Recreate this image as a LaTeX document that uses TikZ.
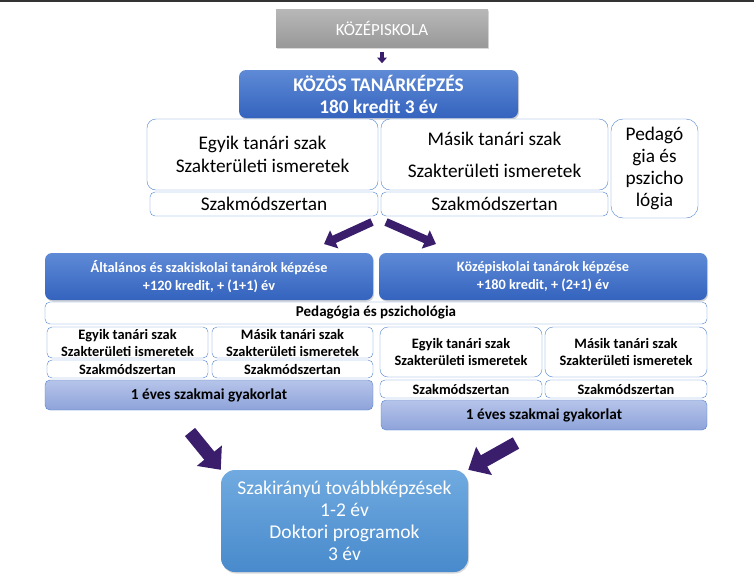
\documentclass[tikz,border=0pt]{standalone}
\usepackage{fontspec}
\setmainfont{Carlito}
\usepackage{tikz}
\usetikzlibrary{shapes,arrows.meta,shadows,positioning}

\definecolor{keret}{RGB}{79,129,208}
\definecolor{lila}{RGB}{58,30,108}
\definecolor{kektop}{RGB}{94,138,214}
\definecolor{kekbot}{RGB}{52,99,190}
\definecolor{vilagtop}{RGB}{182,196,233}
\definecolor{vilagbot}{RGB}{142,163,218}
\definecolor{egtop}{RGB}{112,170,224}
\definecolor{egbot}{RGB}{72,138,204}

\begin{document}
\begin{tikzpicture}[x=1pt, y=-1pt,
  box/.style={draw=keret, fill=white, rounded corners=#1, inner sep=0pt, align=center, font=\fontsize{19.3}{23}\selectfont},
  box/.default=9pt,
  kis/.style={box=5pt, font=\bfseries\fontsize{14.4}{17}\selectfont},
  kek/.style={draw=none, rounded corners=7pt, top color=kektop, bottom color=kekbot, text=white, inner sep=0pt, align=center,
    drop shadow={shadow xshift=1pt, shadow yshift=-1.5pt, opacity=0.35}},
  gyak/.style={draw=keret, rounded corners=5pt, top color=vilagtop, bottom color=vilagbot, inner sep=0pt,
    font=\bfseries\fontsize{15.3}{17}\selectfont},
  nyil/.style={draw=lila, line width=#1, -{Triangle[width=2.4*#1, length=1.4*#1]}},
  nyil/.default=8pt]
\useasboundingbox (0,0) rectangle (754,576);
\fill[black!80] (0,0) rectangle (754,2);

% felso resz
\node [draw=none, top color=black!28, bottom color=black!40, text=white, inner sep=0pt,
  minimum width=212pt, minimum height=38pt, font=\fontsize{17}{20}\selectfont,
  drop shadow={shadow xshift=1pt, shadow yshift=-1.5pt, opacity=0.3}] (kozep) at (382,28) {KÖZÉPISKOLA};
\node [kek, minimum width=279pt, minimum height=48pt, font=\bfseries\fontsize{19.3}{22}\selectfont] (kozos) at (378.5,94) {KÖZÖS TANÁRKÉPZÉS\\180 kredit 3 év};
\node [box, minimum width=231pt, minimum height=71pt] (egyik) at (262.5,154.5) {Egyik tanári szak\\Szakterületi ismeretek};
\node [box, minimum width=227pt, minimum height=71pt] (masik) at (494.5,154.5) {Másik tanári szak\\[9pt]Szakterületi ismeretek};
\node [box=5pt, minimum width=228pt, minimum height=24pt] (modA) at (264,204) {Szakmódszertan};
\node [box=5pt, minimum width=227pt, minimum height=24pt] (modB) at (494.5,204) {Szakmódszertan};
\node [box=12pt, minimum width=87pt, minimum height=99pt, font=\fontsize{19.3}{22}\selectfont] (pedpszi) at (654.5,168.5) {Pedagó\\gia és\\pszicho\\lógia};

\draw [nyil=4pt] (kozep.south) ++(0,5) -- ++(0,11);
\coordinate (elag) at (379,219);
\coordinate (balveg) at (324,244);
\coordinate (jobbveg) at (436,244);
\draw [nyil] (elag) ++(-7,3) -- (balveg);
\draw [nyil] (elag) ++(7,3) -- (jobbveg);

% ket ag
\node [kek, minimum width=328pt, minimum height=47pt, font=\bfseries\fontsize{14.3}{18}\selectfont] (altalanos) at (209,276.5) {Általános és szakiskolai tanárok képzése\\+120 kredit, + (1+1) év};
\node [kek, minimum width=328pt, minimum height=47pt, font=\bfseries\fontsize{14.3}{18}\selectfont] (kozepisk) at (543,276.5) {Középiskolai tanárok képzése\\+180 kredit, + (2+1) év};
\node [box=5pt, minimum width=662pt, minimum height=22pt, font=\bfseries\fontsize{15}{17}\selectfont] (pedsor) at (376,313) {Pedagógia és pszichológia};

\node [kis, minimum width=161pt, minimum height=31pt] (bEgyik) at (127.5,342.5) {Egyik tanári szak\\Szakterületi ismeretek};
\node [kis, minimum width=161pt, minimum height=31pt] (bMasik) at (292.5,342.5) {Másik tanári szak\\Szakterületi ismeretek};
\node [kis, minimum width=161pt, minimum height=18pt] (bModA) at (127.5,369) {Szakmódszertan};
\node [kis, minimum width=161pt, minimum height=18pt] (bModB) at (292.5,369) {Szakmódszertan};
\node [gyak, minimum width=328pt, minimum height=30pt] (bGyak) at (209,395) {1 éves szakmai gyakorlat};

\node [kis, rounded corners=8pt, minimum width=162pt, minimum height=50pt] (jEgyik) at (461,352) {Egyik tanári szak\\Szakterületi ismeretek};
\node [kis, rounded corners=8pt, minimum width=162pt, minimum height=50pt] (jMasik) at (626,352) {Másik tanári szak\\Szakterületi ismeretek};
\node [kis, minimum width=162pt, minimum height=18pt] (jModA) at (461,389) {Szakmódszertan};
\node [kis, minimum width=162pt, minimum height=18pt] (jModB) at (626,389) {Szakmódszertan};
\node [gyak, minimum width=326pt, minimum height=30pt] (jGyak) at (544,415) {1 éves szakmai gyakorlat};

% also doboz
\node [draw=none, rounded corners=14pt, top color=egtop, bottom color=egbot, text=white, inner sep=0pt,
  minimum width=247pt, minimum height=102pt, align=center, font=\fontsize{19.5}{22}\selectfont,
  drop shadow={shadow xshift=1pt, shadow yshift=-1.5pt, opacity=0.3}] (tovabb) at (344.5,521)
  {Szakirányú továbbképzések\\1-2 év\\Doktori programok\\3 év};

\coordinate (balfent) at (190,432);
\coordinate (jobbfent) at (516,443);
\draw [nyil=13pt] (balfent) -- (tovabb.north west);
\draw [nyil=13pt] (jobbfent) -- (tovabb.north east);
\end{tikzpicture}
\end{document}
